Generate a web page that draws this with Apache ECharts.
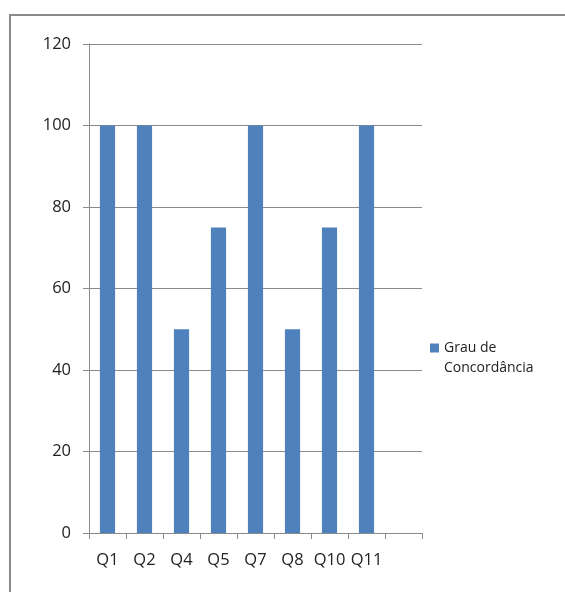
<!DOCTYPE html>
<html>
<head>
<meta charset="utf-8">
<script src="https://cdn.jsdelivr.net/npm/echarts@6/dist/echarts.min.js"></script>
<style>
  html, body { margin: 0; padding: 0; background: #fff; overflow: hidden; }
  #frame {
    position: absolute; left: 9px; top: 14px; width: 700px; height: 700px;
    border: 2px solid #8a8a8a; box-sizing: border-box;
  }
  #chart { position: absolute; left: 0; top: 0; width: 565px; height: 592px; }
</style>
</head>
<body>
<div id="frame"></div>
<div id="chart"></div>
<script>
// categorias (a última fica vazia, como no Excel)
const categories = ['Q1', 'Q2', 'Q4', 'Q5', 'Q7', 'Q8', 'Q10', 'Q11', ''];
const concordancia = [100, 100, 50, 75, 100, 50, 75, 100, null];
const seriesName = 'Grau de Concordância';

const chart = echarts.init(document.getElementById('chart'));
chart.setOption({
  animation: false,
  textStyle: { fontFamily: 'Open Sans' },
  grid: { left: 89, right: 143, top: 44, bottom: 59, containLabel: false },
  legend: {
    data: [seriesName],
    left: 425, top: 336,
    icon: 'rect', itemWidth: 9, itemHeight: 9, itemGap: 4,
    // quebra de linha como no Excel: só a 1a linha fica junto do quadrado
    formatter: () => 'Grau de',
    textStyle: { fontSize: 14, color: '#222' }
  },
  graphic: [{
    type: 'text', left: 444, top: 361,
    style: { text: 'Concordância', fontSize: 14, fill: '#222', fontFamily: 'Open Sans' }
  }],
  xAxis: {
    type: 'category',
    data: categories,
    axisLine: { lineStyle: { color: '#8a8a8a', width: 1 } },
    axisTick: { show: true, length: 6, lineStyle: { color: '#8a8a8a' } },
    axisLabel: { fontSize: 16.5, color: '#222', margin: 19, interval: 0 }
  },
  yAxis: {
    type: 'value', min: 0, max: 120, interval: 20,
    axisLine: { show: true, lineStyle: { color: '#8a8a8a' } },
    axisTick: { show: true, length: 6, lineStyle: { color: '#8a8a8a' } },
    splitLine: { lineStyle: { color: '#8a8a8a', width: 1 } },
    axisLabel: { fontSize: 16.5, color: '#222', margin: 18 }
  },
  series: [{
    name: seriesName,
    type: 'bar',
    data: concordancia,
    barWidth: '41%',
    itemStyle: { color: '#4F81BD' }
  }]
});
</script>
</body>
</html>
